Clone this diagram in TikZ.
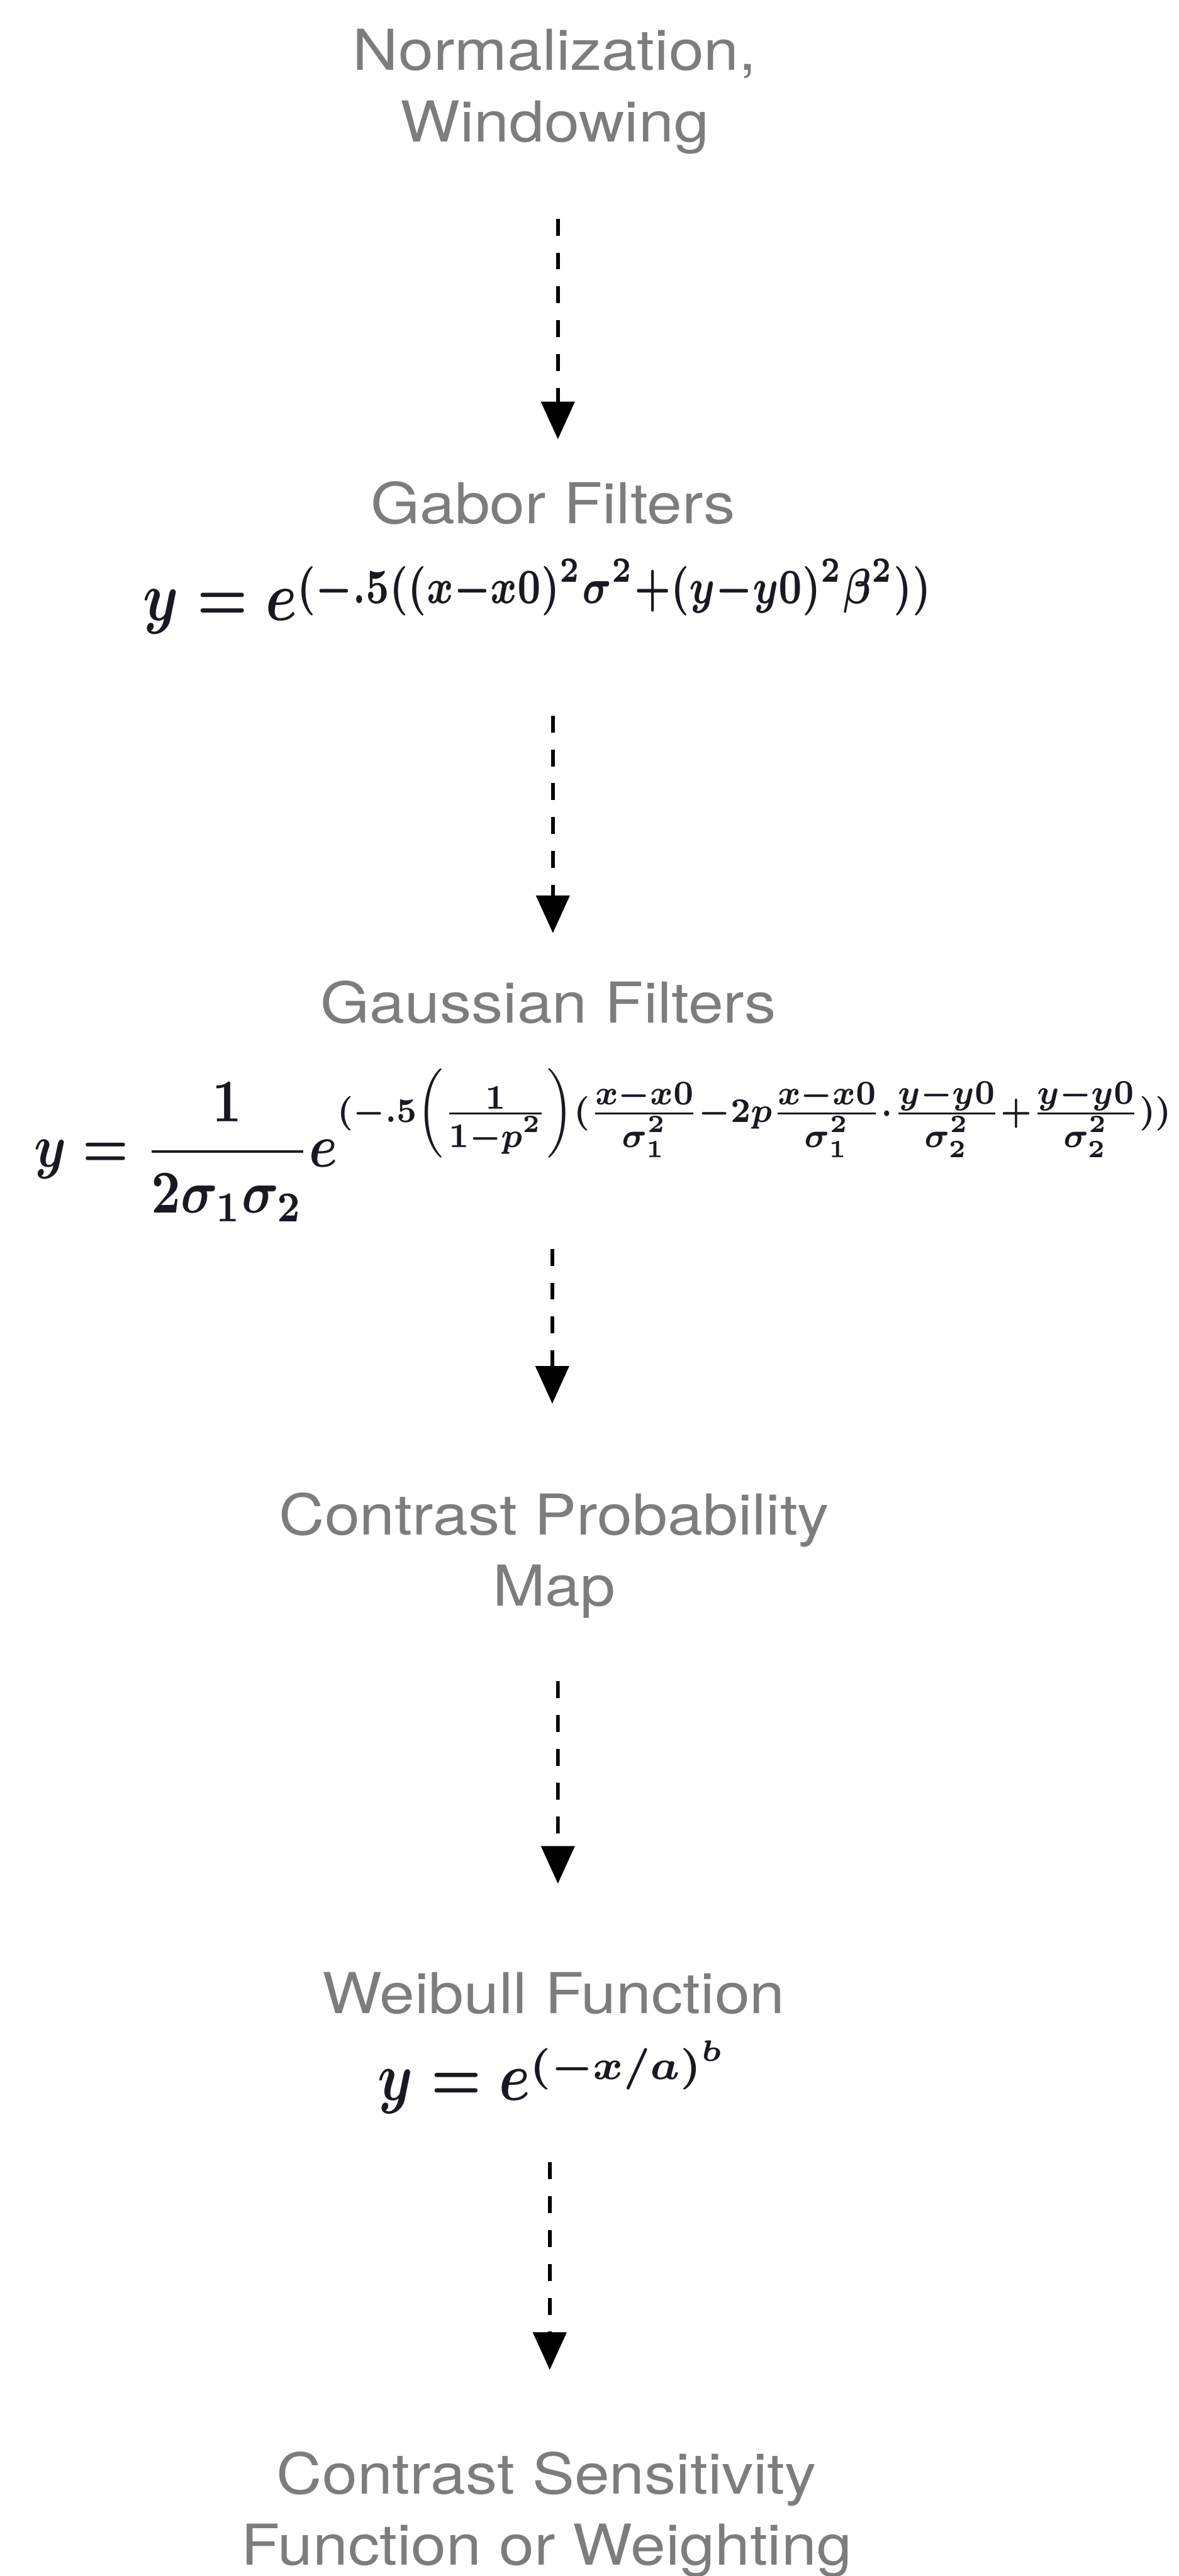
\documentclass[tikz,border=0pt]{standalone}
\usepackage{fontspec}
\usepackage{graphicx}
\usetikzlibrary{arrows.meta}
\newfontfamily\labelfont{TeX Gyre Heros}[FakeStretch=1.12]
\definecolor{labelgray}{RGB}{125,125,125}
\definecolor{eqink}{RGB}{25,25,35}
% exponent: width, total height, content, lift of its bottom above the baseline
\newcommand{\expo}[4]{\raisebox{#4}{\raisebox{\depth}{\resizebox*{#1}{#2}{\boldmath$\scriptstyle #3$}}}}
\begin{document}
\begin{tikzpicture}[
  lbl/.style={font=\labelfont\fontsize{25.6}{32.4}\selectfont, text=labelgray, inner sep=0pt, align=center},
  eq/.style={inner sep=0pt, anchor=base west, text=eqink},
  flow/.style={line width=0.055cm, dash pattern=on 0.27cm off 0.27cm, -{Triangle[length=0.6cm,width=0.53cm]}}
]
\fill[white] (0,0) rectangle (18.8,-41.11);
\useasboundingbox (0,0) rectangle (18.8,-41.11);

% stage labels and formulas
\node[lbl, anchor=north] (norm) at (8.85,-0.46) {Normalization,\\Windowing};
\node[lbl, anchor=base] (gabor) at (8.82,-8.36) {Gabor Filters};
\node[eq] (gaborf) at (2.28,-9.90) {\scalebox{2.57}[3.16]{\boldmath$y=e$}\expo{10.11cm}{0.90cm}{(-.5((x-x0)^2\sigma^2+(y-y0)^2\beta^2))}{0.07cm}};
\node[lbl, anchor=base] (gauss) at (8.75,-16.32) {Gaussian Filters};
\node[eq] (gaussf) at (0.54,-18.62) {\scalebox{2.33}[2.76]{\boldmath$\displaystyle y=\frac{1}{2\sigma_1\sigma_2}e$}\expo{13.30cm}{1.42cm}{(-.5\left(\frac{\scriptstyle 1}{\scriptstyle 1-p^2}\right)(\frac{\scriptstyle x-x0}{\scriptstyle\sigma_1^2}-2p\frac{\scriptstyle x-x0}{\scriptstyle\sigma_1^2}\cdot\frac{\scriptstyle y-y0}{\scriptstyle\sigma_2^2}+\frac{\scriptstyle y-y0}{\scriptstyle\sigma_2^2}))}{0.14cm}};
\node[lbl, anchor=north] (cpm) at (8.84,-23.81) {Contrast Probability\\Map};
\node[lbl, anchor=base] (weib) at (8.83,-32.13) {Weibull Function};
\node[eq] (weibf) at (6.02,-33.52) {\scalebox{2.55}[3.13]{\boldmath$y=e$}\expo{3.10cm}{0.78cm}{(-x/a)^b}{0.17cm}};
\node[lbl, anchor=north] (csf) at (8.72,-39.12) {Contrast Sensitivity\\Function or Weighting};

% connectors
\draw[flow] ([xshift=0.05cm,yshift=-3.03cm]norm.north) -- ([xshift=0.08cm,yshift=1.35cm]gabor.base);
\draw[flow] ([xshift=0.07cm,yshift=-1.52cm]gaborf.base -| gauss.base) -- ([xshift=0.07cm,yshift=1.43cm]gauss.base);
\draw[flow] ([xshift=-0.03cm,yshift=-1.31cm]gaussf.base -| cpm.north) -- ([xshift=-0.03cm,yshift=1.41cm]cpm.north);
\draw[flow] ([xshift=0.06cm,yshift=-3.02cm]cpm.north) -- ([xshift=0.07cm,yshift=2.07cm]weib.base);
\draw[flow] ([xshift=0.05cm,yshift=-0.99cm]weibf.base -| csf.north) -- ([xshift=0.05cm,yshift=1.30cm]csf.north);
\end{tikzpicture}
\end{document}
